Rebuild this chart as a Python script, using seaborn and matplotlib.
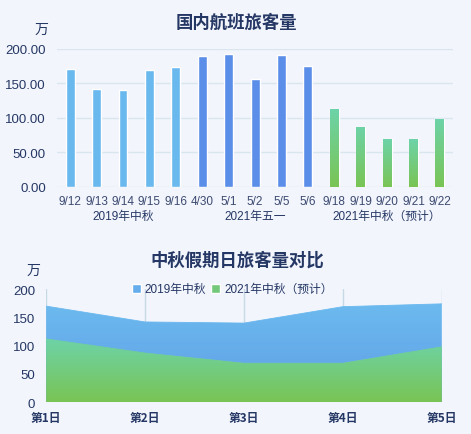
import numpy as np
import pandas as pd
import matplotlib
matplotlib.use("Agg")
import matplotlib.pyplot as plt
from matplotlib.colors import LinearSegmentedColormap
from matplotlib.patches import Patch
import seaborn as sns

# data
dates = ["9/12", "9/13", "9/14", "9/15", "9/16", "4/30", "5/1", "5/2", "5/5", "5/6",
         "9/18", "9/19", "9/20", "9/21", "9/22"]
passengers = [170, 142, 140, 169, 174, 190, 192, 156, 191, 175, 112, 87, 69, 69, 98]
periods = ["2019年中秋"] * 5 + ["2021年五一"] * 5 + ["2021年中秋（预计）"] * 5
days = ["第1日", "第2日", "第3日", "第4日", "第5日"]
mid_2019 = [170, 142, 140, 169, 174]
mid_2021 = [112, 87, 69, 69, 98]

sns.set_theme(style="white")
plt.rcParams["font.family"] = ["Liberation Sans", "Noto Sans CJK SC", "DejaVu Sans"]
CJK = ["Noto Sans CJK SC", "DejaVu Sans"]

BG = "#f2f5fc"
NAVY = "#253764"
GRID = "#d9e6ef"

fig = plt.figure(figsize=(4.71, 4.35), dpi=100, facecolor=BG)

green_cmap = LinearSegmentedColormap.from_list("g", ["#79c454", "#6dd3a8"])
blue_cmap = LinearSegmentedColormap.from_list("b", ["#5f9ee6", "#6cbaef"])


def gradient_fill(ax, clip, cmap, x0, x1, y0, y1, z):
    grad = np.linspace(0, 1, 256).reshape(-1, 1)
    im = ax.imshow(grad, cmap=cmap, origin="lower", aspect="auto",
                   extent=(x0, x1, y0, y1), zorder=z)
    if hasattr(clip, "get_paths"):
        im.set_clip_path(clip.get_paths()[0], ax.transData)
    else:
        im.set_clip_path(clip)


# ---- top: bar chart
ax1 = fig.add_axes([0.121, 0.568, 0.841, 0.318], facecolor=BG)
df = pd.DataFrame({"date": dates, "value": passengers, "period": periods})
palette = {"2019年中秋": "#6ab9ee", "2021年五一": "#5b8ee8", "2021年中秋（预计）": "#74cc7e"}
sns.barplot(data=df, x="date", y="value", hue="period", palette=palette,
            dodge=False, width=0.34, legend=False, saturation=1, ax=ax1, zorder=3)
ax1.set_xlim(-0.5, len(dates) - 0.5)
ax1.set_ylim(0, 200)
green_bars = [p for p in ax1.patches
              if p.get_height() > 0 and p.get_facecolor()[:3] == matplotlib.colors.to_rgb("#74cc7e")]
for p in green_bars:
    p.set_facecolor("none")
    gradient_fill(ax1, p, green_cmap, p.get_x(), p.get_x() + p.get_width(),
                  0, p.get_height(), 3)
ax1.set_xlim(-0.5, len(dates) - 0.5)
ax1.set_ylim(0, 200)
ax1.set_yticks([0, 50, 100, 150, 200])
ax1.set_yticklabels([f"{v:.2f}" for v in [0, 50, 100, 150, 200]])
ax1.yaxis.grid(True, color=GRID, lw=1)
ax1.set_axisbelow(True)
sns.despine(ax=ax1, left=True, bottom=True)
ax1.tick_params(axis="y", length=0, labelsize=9.5, colors=NAVY, pad=8)
ax1.tick_params(axis="x", length=0, labelsize=8.5, colors="#3c4a70", pad=6)
ax1.set_xlabel("")
ax1.set_ylabel("")
for lab, cx in zip(["2019年中秋", "2021年五一", "2021年中秋（预计）"], [2, 7, 12]):
    ax1.text(cx, -0.21, lab, transform=ax1.get_xaxis_transform(), ha="center",
             va="center", fontsize=8.5, color=NAVY)
fig.text(0.503, 0.947, "国内航班旅客量", ha="center", va="center", family=CJK,
         fontsize=12.5, fontweight="bold", color=NAVY)
fig.text(0.089, 0.931, "万", ha="center", va="center", family=CJK, fontsize=10, color=NAVY)

# ---- bottom: area chart
ax2 = fig.add_axes([0.098, 0.073, 0.840, 0.260], facecolor=BG)
df2 = pd.DataFrame({"day": np.arange(len(days)), "a": mid_2019, "b": mid_2021})
sns.lineplot(data=df2, x="day", y="a", color="#6cbaef", lw=0.6, ax=ax2, zorder=3)
sns.lineplot(data=df2, x="day", y="b", color="#72cf9a", lw=0.6, ax=ax2, zorder=4)
xs = df2["day"].to_numpy()
poly_a = ax2.fill_between(xs, 0, df2["a"], color="none", zorder=3)
poly_b = ax2.fill_between(xs, 0, df2["b"], color="none", zorder=4)
ax2.set_xlim(0, len(days) - 1)
ax2.set_ylim(0, 200)
gradient_fill(ax2, poly_a, blue_cmap, 0, len(days) - 1, 0, max(mid_2019), 3)
gradient_fill(ax2, poly_b, green_cmap, 0, len(days) - 1, 0, max(mid_2021), 4)
ax2.set_xlim(0, len(days) - 1)
ax2.set_ylim(0, 200)
ax2.set_xticks(xs)
ax2.set_xticklabels(days, fontweight="bold", family=CJK)
ax2.set_yticks([0, 50, 100, 150, 200])
ax2.xaxis.grid(True, color="#c8d9e6", lw=1)
ax2.set_axisbelow(True)
sns.despine(ax=ax2, left=True, bottom=True)
ax2.tick_params(axis="y", length=0, labelsize=9.5, colors=NAVY, pad=8)
ax2.tick_params(axis="x", length=0, labelsize=8.5, colors=NAVY, pad=6)
ax2.set_xlabel("")
ax2.set_ylabel("")
handles = [Patch(facecolor="#65adec", label="2019年中秋"),
           Patch(facecolor="#74c87a", label="2021年中秋（预计）")]
leg = ax2.legend(handles=handles, loc="center", bbox_to_anchor=(0.47, 1.0), ncol=2,
                 frameon=False, fontsize=8.5, handlelength=0.8, handleheight=0.8,
                 handletextpad=0.3, columnspacing=0.4, borderaxespad=0)
for t in leg.get_texts():
    t.set_color(NAVY)
fig.text(0.503, 0.402, "中秋假期日旅客量对比", ha="center", va="center", family=CJK,
         fontsize=12.5, fontweight="bold", color=NAVY)
fig.text(0.07, 0.377, "万", ha="center", va="center", family=CJK, fontsize=10, color=NAVY)

fig.savefig("out.png", dpi=100, facecolor=BG)
